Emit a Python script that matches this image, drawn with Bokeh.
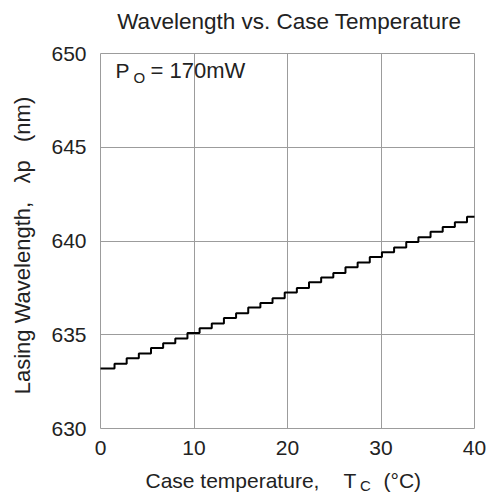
from bokeh.plotting import figure
from bokeh.models import Label, FixedTicker, Range1d, Grid
from bokeh.embed import file_html
from bokeh.resources import INLINE

# ---- data ----
temp_c = [0, 1.5, 2.8, 4.1, 5.4, 6.7, 8.0, 9.3, 10.6, 11.9, 13.2, 14.5, 15.8, 17.1, 18.4,
          19.7, 21.0, 22.3, 23.6, 24.9, 26.2, 27.5, 28.8, 30.1, 31.4, 32.7, 34.0, 35.3,
          36.6, 37.9, 39.2, 40.0]
wavelength_nm = [633.2, 633.45, 633.75, 634.0, 634.3, 634.55, 634.8, 635.1, 635.35, 635.6,
                 635.9, 636.15, 636.45, 636.7, 636.95, 637.25, 637.5, 637.8, 638.05, 638.3,
                 638.6, 638.85, 639.15, 639.4, 639.65, 639.95, 640.2, 640.5, 640.75, 641.0,
                 641.3, 641.3]
x_ticks = [0, 10, 20, 30, 40]
y_ticks = [630, 635, 640, 645, 650]
x_lim = (0, 40)
y_lim = (630, 650)

FONT = "Liberation Sans"
TXT = "#222222"
GRID = "#9c9c9c"

# the frame covers the whole canvas; the chart box is placed inside it
p = figure(width=486, height=501, output_backend="svg", toolbar_location=None,
           x_range=Range1d(-10.695, 41.283), y_range=Range1d(626.107, 652.827),
           min_border=0)
p.outline_line_color = None
p.background_fill_color = "white"
p.border_fill_color = "white"

p.xaxis.fixed_location = y_lim[0]
p.yaxis.fixed_location = x_lim[0]
p.xaxis.bounds = x_lim
p.yaxis.bounds = y_lim
p.xaxis.ticker = FixedTicker(ticks=x_ticks)
p.yaxis.ticker = FixedTicker(ticks=y_ticks)
for ax in (p.xaxis, p.yaxis):
    ax.axis_line_color = None
    ax.major_tick_line_color = None
    ax.minor_tick_line_color = None
    ax.major_label_text_font = FONT
    ax.major_label_text_font_size = "21px"
    ax.major_label_text_color = TXT
p.xaxis.major_label_standoff = 6
p.yaxis.major_label_standoff = 8

has_cross = "cross_bounds" in Grid.properties()
p.xgrid.ticker = FixedTicker(ticks=x_ticks)
p.ygrid.ticker = FixedTicker(ticks=y_ticks)
if has_cross:
    p.xgrid.bounds = x_lim
    p.xgrid.cross_bounds = y_lim
    p.ygrid.bounds = y_lim
    p.ygrid.cross_bounds = x_lim
    p.grid.grid_line_color = GRID
    p.grid.grid_line_width = 1
else:
    p.grid.grid_line_color = None
    p.segment(x0=x_ticks, y0=[y_lim[0]] * len(x_ticks), x1=x_ticks, y1=[y_lim[1]] * len(x_ticks),
              line_color=GRID, line_width=1)
    p.segment(x0=[x_lim[0]] * len(y_ticks), y0=y_ticks, x1=[x_lim[1]] * len(y_ticks), y1=y_ticks,
              line_color=GRID, line_width=1)

p.step(temp_c, wavelength_nm, mode="after", line_color="black", line_width=2)

def lab(x, y, text, size="21px", **kw):
    p.add_layout(Label(x=x, y=y, text=text, text_font=FONT, text_font_size=size,
                       text_color=TXT, **kw))

NB = "\u00a0"
# title
lab(20.2, 651.71, "Wavelength vs. Case Temperature", size="22.5px", text_align="center",
    text_baseline="alphabetic")
# x axis label with subscript
lab(4.81, 627.23, "Case temperature,", text_baseline="alphabetic")
lab(26.0, 627.23, "T", text_baseline="alphabetic")
lab(27.75, 626.96, "C", size="15px", text_baseline="alphabetic")
lab(30.27, 627.23, "(°C)", text_baseline="alphabetic")
# y axis label
lab(-8.35, 639.76, "Lasing Wavelength," + NB + NB + " λp" + NB + NB + " (nm)", size="22px",
    text_align="center", text_baseline="middle", angle=1.5707963)
# annotation P_O = 170mW
lab(1.6, 649.1, "P", size="21px", text_baseline="alphabetic")
lab(3.53, 648.72, "O", size="15px", text_baseline="alphabetic")
lab(5.35, 649.1, "= 170mW", size="22px", text_baseline="alphabetic")

open("out.html", "w").write(file_html(p, INLINE))
